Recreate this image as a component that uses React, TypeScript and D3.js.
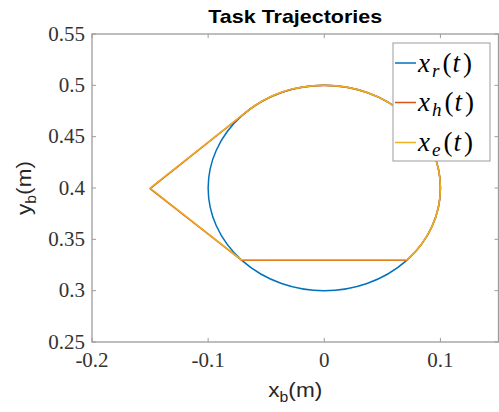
import React from "react";
import * as d3 from "d3";

// ---- data ----
const xTickValues = [-0.2, -0.1, 0, 0.1];
const xTickLabels = ["-0.2", "-0.1", "0", "0.1"];
const yTickValues = [0.25, 0.3, 0.35, 0.4, 0.45, 0.5, 0.55];
const yTickLabels = ["0.25", "0.3", "0.35", "0.4", "0.45", "0.5", "0.55"];

// x_r(t): reference circle
const refCenter = [0, 0.4];
const refRadius = 0.1;

// x_h(t) and x_e(t): straight-segment vertices, then arc through circle points back to the first vertex
const xhX = [-0.0667, -0.15, -0.0713, 0.0713];
const xhY = [0.4745, 0.3995, 0.3297, 0.3297];
const xeX = [-0.0667, -0.15, -0.0716, 0.0716];
const xeY = [0.4745, 0.4, 0.3302, 0.3302];
const arcX = [0.1, 0];
const arcY = [0.4, 0.5];

const seriesNames = ["r", "h", "e"];
const seriesColors = ["#0072BD", "#D95319", "#EDB120"];

const W = 499;
const H = 412;
const SX = 1.13; // horizontal stretch of sans text seen in the reference
const SERIF = "Liberation Serif";
const SANS = "Liberation Sans";

export default function App() {
  const x = d3.scaleLinear().domain([-0.2, 0.15]).range([92, 498.5]);
  const y = d3.scaleLinear().domain([0.25, 0.55]).range([342, 34]);
  const [x0, x1] = x.range();
  const [y0, y1] = y.range();
  const rx = x(refCenter[0] + refRadius) - x(refCenter[0]);
  const ry = y(refCenter[1]) - y(refCenter[1] + refRadius);

  const trajPath = (xs: number[], ys: number[]) => {
    const line = d3.line<number>().x((_, i) => x(xs[i])).y((_, i) => y(ys[i]));
    let d = line(xs) as string;
    const ax = [...arcX, xs[0]];
    const ay = [...arcY, ys[0]];
    ax.forEach((v, i) => {
      d += ` A${rx},${ry} 0 0 0 ${x(v)},${y(ay[i])}`;
    });
    return d;
  };

  const axisColor = "#9c9c9c";
  const tickColor = "#333";
  const tickLen = 4;

  const legX = 393, legY = 43, legW = 97, legH = 118;
  const legRows = [63, 102.5, 142.5];

  return (
    <svg width={W} height={H} style={{ position: "absolute", left: 0, top: 0 }}>
      <rect x={0} y={0} width={W} height={H} fill="#fff" />
      {/* title */}
      <g transform={`translate(${(x0 + x1) / 2},23) scale(${SX},1)`}>
        <text textAnchor="middle" fontFamily={SANS} style={{ fontFamily: SANS }} fontWeight="bold" fontSize={19} fill="#000">
          Task Trajectories
        </text>
      </g>

      {/* data */}
      <ellipse cx={x(refCenter[0])} cy={y(refCenter[1])} rx={rx} ry={ry} fill="none" stroke={seriesColors[0]} strokeWidth={1.5} />
      <path d={trajPath(xhX, xhY)} fill="none" stroke={seriesColors[1]} strokeWidth={1.6} strokeLinejoin="round" />
      <path d={trajPath(xeX, xeY)} fill="none" stroke={seriesColors[2]} strokeWidth={1.5} strokeLinejoin="round" />

      {/* axes box */}
      <rect x={x0} y={y1} width={x1 - x0} height={y0 - y1} fill="none" stroke={axisColor} strokeWidth={1.3} />
      {xTickValues.map((v, i) => (
        <g key={"xt" + i}>
          <line x1={x(v)} x2={x(v)} y1={y0} y2={y0 - tickLen} stroke={axisColor} strokeWidth={1} />
          <line x1={x(v)} x2={x(v)} y1={y1} y2={y1 + tickLen} stroke={axisColor} strokeWidth={1} />
          <text x={x(v)} y={y0 + 25} textAnchor="middle" fontFamily={SERIF} style={{ fontFamily: SERIF }} fontSize={21} fill={tickColor}>
            {xTickLabels[i]}
          </text>
        </g>
      ))}
      {yTickValues.map((v, i) => (
        <g key={"yt" + i}>
          <line x1={x0} x2={x0 + tickLen} y1={y(v)} y2={y(v)} stroke={axisColor} strokeWidth={1} />
          <line x1={x1} x2={x1 - tickLen} y1={y(v)} y2={y(v)} stroke={axisColor} strokeWidth={1} />
          <text x={x0 - 7} y={y(v) + 6.8} textAnchor="end" fontFamily={SERIF} style={{ fontFamily: SERIF }} fontSize={21} fill={tickColor}>
            {yTickLabels[i]}
          </text>
        </g>
      ))}

      {/* axis labels */}
      <g transform={`translate(${(x0 + x1) / 2},397) scale(${SX},1)`}>
        <text textAnchor="middle" fontFamily={SANS} style={{ fontFamily: SANS }} fontSize={20} fill="#262626">
          x<tspan fontSize={14} dy={5}>b</tspan><tspan dy={-5}>(m)</tspan>
        </text>
      </g>
      <g transform={`translate(31,${(y0 + y1) / 2}) rotate(-90) scale(${SX},1)`}>
        <text textAnchor="middle" fontFamily={SANS} style={{ fontFamily: SANS }} fontSize={20} fill="#262626">
          y<tspan fontSize={14} dy={5}>b</tspan><tspan dy={-5}>(m)</tspan>
        </text>
      </g>

      {/* legend */}
      <rect x={legX} y={legY} width={legW} height={legH} fill="#fff" stroke={axisColor} strokeWidth={1} />
      {seriesNames.map((n, i) => (
        <g key={"lg" + i}>
          <line x1={395} x2={416} y1={legRows[i]} y2={legRows[i]} stroke={seriesColors[i]} strokeWidth={1.5} />
          <text x={418} y={legRows[i] + 8.5} fontFamily={SERIF} style={{ fontFamily: SERIF }} fontSize={27} fill="#000">
            <tspan fontStyle="italic" style={{ fontFamily: SERIF }}>x</tspan>
            <tspan fontStyle="italic" style={{ fontFamily: SERIF }} fontSize={19} dy={5} dx={2}>{n}</tspan>
            <tspan dy={-5} dx={3} style={{ fontFamily: SERIF }}>(</tspan>
            <tspan fontStyle="italic" dx={1} style={{ fontFamily: SERIF }}>t</tspan>
            <tspan dx={3} style={{ fontFamily: SERIF }}>)</tspan>
          </text>
        </g>
      ))}
    </svg>
  );
}
